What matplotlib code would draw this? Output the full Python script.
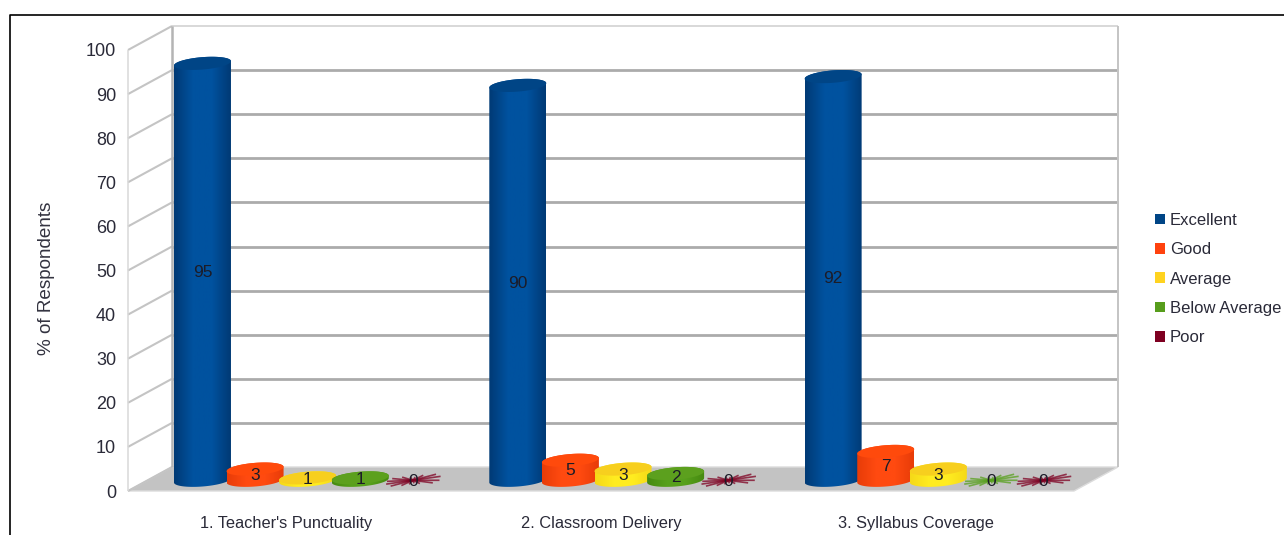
import numpy as np
import matplotlib
matplotlib.use('Agg')
import matplotlib.pyplot as plt
from matplotlib.lines import Line2D
from matplotlib.patches import Patch, Polygon
from matplotlib.colors import LinearSegmentedColormap

plt.rcParams['font.family'] = ['Liberation Sans', 'DejaVu Sans']
plt.rcParams['lines.solid_capstyle'] = 'butt'

categories = ["1. Teacher's Punctuality", "2. Classroom Delivery", "3. Syllabus Coverage"]
seriesNames = ['Excellent', 'Good', 'Average', 'Below Average', 'Poor']
excellent = [95, 90, 92]
good = [3, 5, 7]
average = [1, 3, 3]
belowAverage = [1, 2, 0]
poor = [0, 0, 0]
yTicks = [0, 10, 20, 30, 40, 50, 60, 70, 80, 90, 100]

seriesValues = [excellent, good, average, belowAverage, poor]
# edge, middle and top colour of each cylinder
seriesColors = [('#003a75', '#00529f', '#004586'),
                ('#e83c08', '#ff4a10', '#ff4a0c'),
                ('#f5d818', '#ffec20', '#f7cf1e'),
                ('#468a10', '#57a01c', '#5ca01e'),
                ('#7e0021', '#7e0021', '#7e0021')]
legendColors = ['#004586', '#ff420e', '#ffd320', '#579d1c', '#7e0021']

W, H = 1284, 535
LEFT, RIGHT, FLOOR, TOP = 128, 1074, 491, 50
pxX = 3 / (RIGHT - LEFT)
pxY = 100 / (FLOOR - TOP)
depthX = 44 * pxX
depthY = 24 * pxY

fig = plt.figure(figsize=(W / 100, H / 100), dpi=100, facecolor='white')
ax = fig.add_axes([LEFT / W, 1 - FLOOR / H, (RIGHT - LEFT) / W, (FLOOR - TOP) / H])
ax.patch.set_visible(False)
for s in ax.spines.values():
    s.set_visible(False)

# walls and floor
ax.add_patch(Polygon([(0, 0), (depthX, depthY), (3 + depthX, depthY), (3, 0)],
                     facecolor='#c3c3c3', edgecolor='#dcdcdc', lw=1, clip_on=False, zorder=1))
for v in yTicks:
    yb = v + depthY
    ax.plot([0, depthX], [v, yb], color='#c4c4c4', lw=1.5, clip_on=False, zorder=2)
    if 0 < v < 100:
        ax.plot([depthX, 3 + depthX], [yb, yb], color='#ababab', lw=2, clip_on=False, zorder=2)
ax.plot([depthX, 3 + depthX], [100 + depthY, 100 + depthY], color='#d2d2d2', lw=1.2, clip_on=False, zorder=2)
ax.plot([0, 0], [0, 100], color='#d8d8d8', lw=1.1, clip_on=False, zorder=2)
ax.plot([depthX, depthX], [depthY, 100 + depthY], color='#b4b4b4', lw=1.8, clip_on=False, zorder=2)
ax.plot([3 + depthX, 3 + depthX], [depthY, 100 + depthY], color='#c4c4c4', lw=1.4, clip_on=False, zorder=2)

step = 52.6 * pxX
semiA = 28.5 * pxX
semiB = 6.2
tilt = 2.2
baseY = depthY / 2 - 1.3 * pxY
topDrop = 2 * pxY


def ring(cx, cy, t):
    # ellipse of the cylinder end, leaning up to the right
    x = cx + semiA * np.cos(t)
    y = cy + (semiB * np.sin(t) + tilt * np.cos(t)) * pxY
    return np.column_stack([x, y])


spikeAngles = [-172, -158, -140, -115, -80, -50, -25, -10, 8, 22, 42, 70, 110, 140, 160, 175]
spikeLens = [27, 24, 15, 9, 7, 11, 22, 27, 28, 25, 14, 7, 8, 14, 22, 26]

z = 10
for i in range(3):
    cx0 = i + 0.5 + depthX / 2
    for j, vals in enumerate(seriesValues):
        v = vals[i]
        cx = cx0 + (j - 2) * step
        edge, mid, topc = seriesColors[j]
        if v == 0:
            for a, l in zip(spikeAngles, spikeLens):
                ang = np.radians(a)
                ax.plot([cx, cx + l * np.cos(ang) * pxX],
                        [baseY, baseY + (l * np.sin(ang) * 0.45 + l * np.cos(ang) * 0.08) * pxY],
                        color=mid, lw=1.2, alpha=0.75, clip_on=False, zorder=z)
        else:
            tBottom = np.linspace(np.pi, 2 * np.pi, 40)
            tTop = np.linspace(0, np.pi, 40)
            topY = baseY + v - topDrop
            outline = np.vstack([ring(cx, baseY, tBottom), ring(cx, topY, tTop)])
            cmap = LinearSegmentedColormap.from_list('c', [edge, mid, mid, edge])
            body = Polygon(outline, facecolor='none', edgecolor='none', transform=ax.transData)
            ax.add_patch(body)
            im = ax.imshow(np.linspace(0, 1, 64).reshape(1, -1), cmap=cmap, aspect='auto',
                           extent=[cx - semiA, cx + semiA, baseY - 2, topY + 2],
                           zorder=z, clip_on=True)
            im.set_clip_path(body)
            ax.add_patch(Polygon(ring(cx, topY, np.linspace(0, 2 * np.pi, 80)),
                                 facecolor=topc, edgecolor='none', clip_on=False, zorder=z + 0.1))
        z += 1

# value labels on top of every cylinder
for i in range(3):
    cx0 = i + 0.5 + depthX / 2
    for j, vals in enumerate(seriesValues):
        cx = cx0 + (j - 2) * step
        ax.text(cx, baseY + vals[i] / 2 - 1.5 * pxY, str(vals[i]), ha='center', va='center',
                fontsize=12.5, color='#1c1c28', clip_on=False, zorder=100)

ax.set_xlim(0, 3)
ax.set_ylim(0, 100)
ax.set_yticks(yTicks)
ax.set_xticks([0.5, 1.5, 2.5])
ax.set_xticklabels(categories, fontsize=11.8)
ax.tick_params(axis='both', length=0, labelcolor='#2a2a38')
ax.tick_params(axis='y', pad=8.6, labelsize=13)
ax.tick_params(axis='x', pad=18)
ax.set_ylabel('% of Respondents', fontsize=13.6, color='#333340')
ax.yaxis.set_label_coords((55 - LEFT) / (RIGHT - LEFT), 0.483)

# legend
handles = [Patch(facecolor=c, edgecolor='none', label=n) for c, n in zip(legendColors, seriesNames)]
leg = fig.legend(handles=handles, loc='center left', bbox_to_anchor=(1155 / W, 1 - 279 / H), frameon=False,
                 fontsize=12, labelcolor='#2a2a38', handlelength=0.62, handleheight=0.62,
                 handletextpad=0.27, labelspacing=0.86, borderpad=0, borderaxespad=0)

# outer frame of the screenshot
fig.add_artist(Line2D([10 / W, 10 / W, 1], [0, 1 - 15 / H, 1 - 15 / H], color='black', lw=1.2))

fig.savefig('out.png', dpi=100)
